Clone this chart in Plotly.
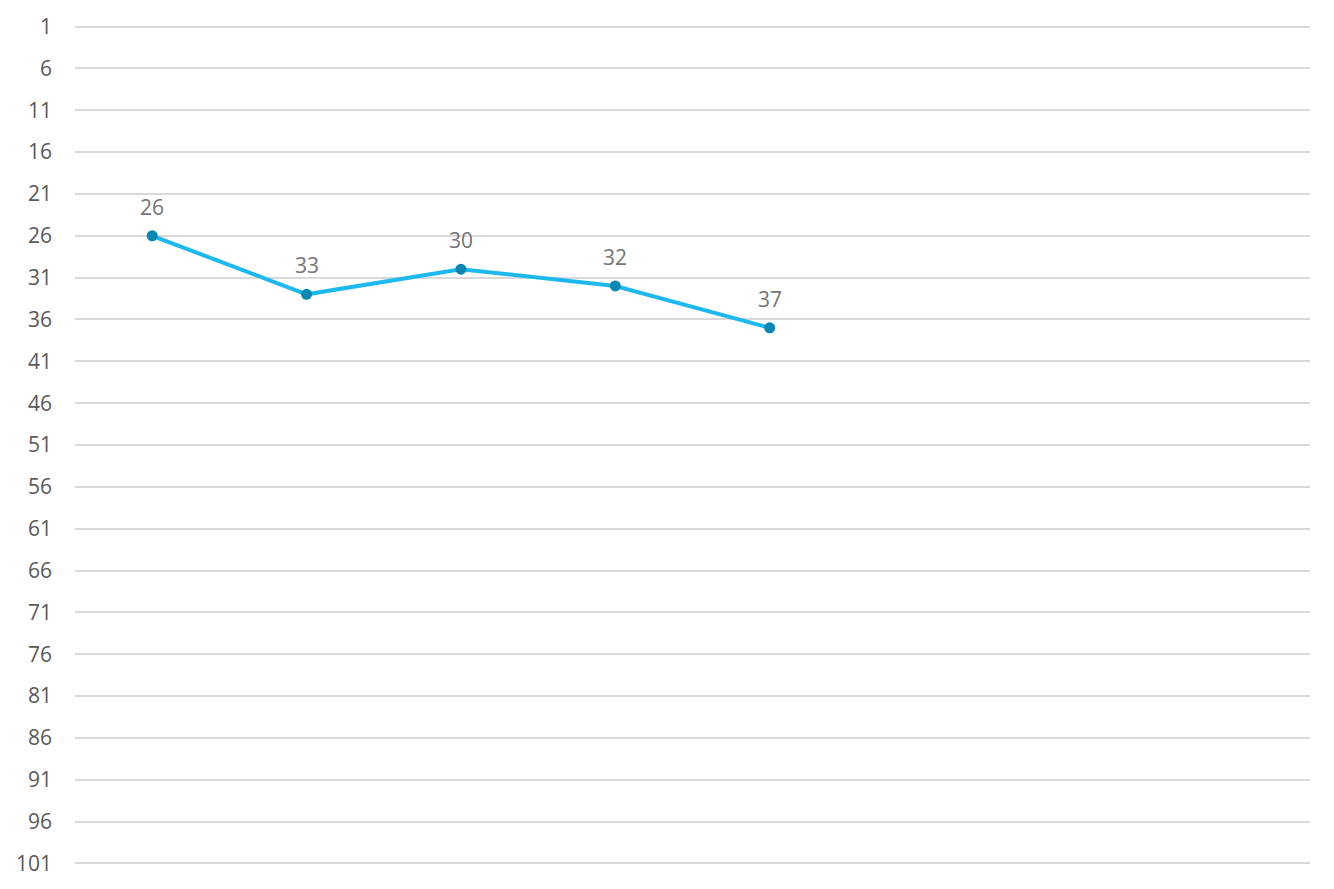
import plotly.graph_objects as go

categories = [1, 2, 3, 4, 5, 6, 7, 8]
values = [26, 33, 30, 32, 37, None, None, None]
tick_values = list(range(1, 102, 5))

fig = go.Figure()
fig.add_trace(go.Scatter(
    x=categories, y=values, mode="lines+markers",
    line=dict(color="#1DB8EE", width=4),
    marker=dict(color="#0C86B3", size=11),
    cliponaxis=False, showlegend=False,
))
for c, v in zip(categories, values):
    if v is not None:
        fig.add_annotation(x=c, y=v, text=str(v), showarrow=False,
                           yshift=29,
                           font=dict(family="Open Sans", size=21, color="#757575"))
fig.update_layout(
    width=1318, height=873,
    margin=dict(l=67, r=16, t=16, b=15),
    plot_bgcolor="white", paper_bgcolor="white",
    font=dict(family="Open Sans", size=21, color="#595959"),
)
fig.update_xaxes(range=[0.5, 8.5], showticklabels=False, showgrid=False,
                 zeroline=False, showline=False, type="linear", automargin=False)
fig.update_yaxes(range=[101.3, 0.7], tickvals=tick_values, automargin=False,
                 showgrid=True, gridcolor="#D9D9D9", gridwidth=2,
                 zeroline=False, showline=False, ticklabelstandoff=22,
                 tickfont=dict(size=21, color="#595959"))
fig.write_html("out.html")
